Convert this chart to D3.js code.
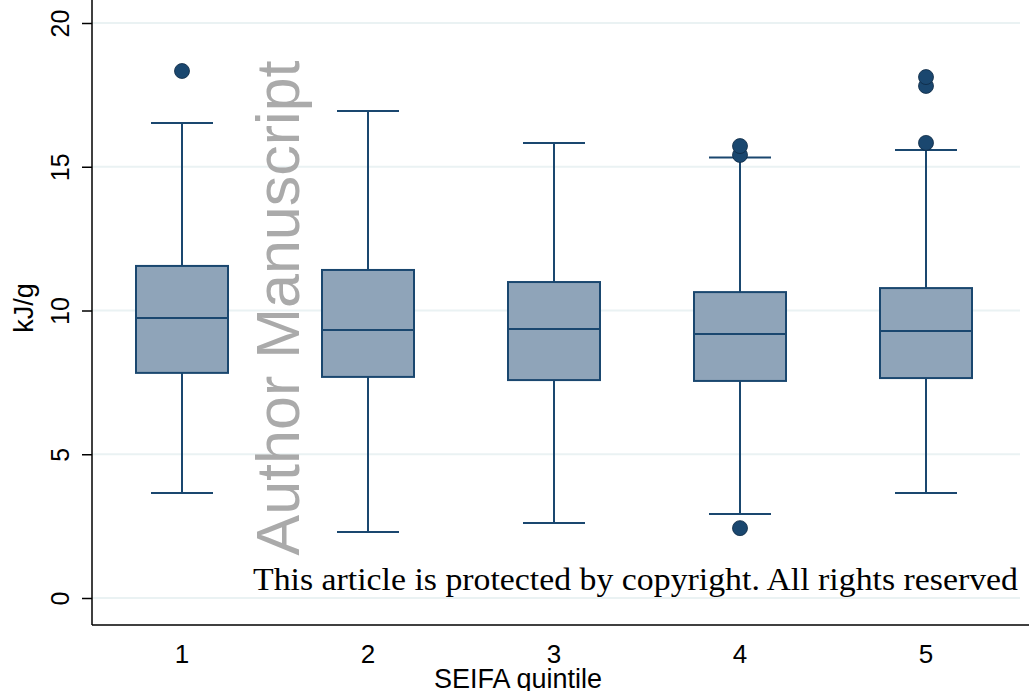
<!DOCTYPE html>
<html><head><meta charset="utf-8">
<script src="https://cdn.jsdelivr.net/npm/d3@7"></script>
<style>body{margin:0;background:#fff}svg{display:block}</style>
</head><body>
<svg id="c" width="1029" height="691"></svg>
<script>
const categories = ["1","2","3","4","5"];
const q1 =      [7.83, 7.69, 7.58, 7.55, 7.65];
const median =  [9.74, 9.32, 9.36, 9.18, 9.29];
const q3 =      [11.55, 11.41, 10.99, 10.64, 10.78];
const whiskLo = [3.65, 2.30, 2.61, 2.92, 3.65];
const whiskHi = [16.52, 16.94, 15.83, 15.32, 15.58];
const outliers = [[18.33], [], [], [2.43, 15.41, 15.72], [15.83, 17.81, 18.12]];
const yTicks = [0, 5, 10, 15, 20];

const svg = d3.select("#c");
const plotL = 92, plotR = 1020, plotT = 0, plotB = 625;
const y = d3.scaleLinear().domain([0, 20]).range([598, 23]);
const x = d3.scaleBand().domain(categories).range([89, 1019]).paddingInner(0).paddingOuter(0);
const cx = c => x(c) + x.bandwidth()/2;
const navy = "#1a476f", fill = "#8fa4b9";
const sans = "Liberation Sans, Arial, sans-serif";

// gridlines
svg.append("g").selectAll("line").data(yTicks).join("line")
  .attr("x1", plotL).attr("x2", plotR).attr("y1", d=>y(d)).attr("y2", d=>y(d))
  .attr("stroke", "#eaf2f3").attr("stroke-width", 2);

// y axis
const ya = svg.append("g").attr("transform", `translate(${plotL},0)`)
  .call(d3.axisLeft(y).tickValues(yTicks).tickSize(10).tickPadding(0));
ya.select(".domain").remove();
ya.selectAll(".tick line").attr("stroke", "#000").attr("stroke-width", 1.5);
ya.selectAll(".tick text").attr("font-family", sans)
  .attr("font-size", 25).attr("fill", "#000").attr("text-anchor", "middle")
  .attr("x", 0).attr("y", 0).attr("dy", 0)
  .attr("transform", "translate(-23,0) rotate(-90)");
svg.append("line").attr("x1", plotL).attr("x2", plotL).attr("y1", plotT).attr("y2", plotB)
  .attr("stroke", "#000").attr("stroke-width", 1.5);

// x axis
const xa = svg.append("g").attr("transform", `translate(0,${plotB})`)
  .call(d3.axisBottom(x).tickSize(0));
xa.select(".domain").remove();
xa.selectAll(".tick text").attr("font-family", sans)
  .attr("font-size", 26).attr("fill", "#000").attr("y", 38).attr("dy", 0);
svg.append("line").attr("x1", plotL).attr("x2", 1029).attr("y1", plotB).attr("y2", plotB)
  .attr("stroke", "#000").attr("stroke-width", 1.5);

// axis titles
svg.append("text").attr("transform", "translate(33,308) rotate(-90)").attr("text-anchor", "middle")
  .attr("font-family", sans).attr("font-size", 27).text("kJ/g");
svg.append("text").attr("x", 518).attr("y", 688).attr("text-anchor", "middle")
  .attr("font-family", sans).attr("font-size", 27).text("SEIFA quintile");

// boxes
const bw = 92, cw = 62;
const g = svg.append("g");
categories.forEach((c, i) => {
  const xc = cx(c);
  const gg = g.append("g");
  const ln = (x1,x2,y1,y2) => gg.append("line").attr("x1",x1).attr("x2",x2).attr("y1",y1).attr("y2",y2)
    .attr("stroke", navy).attr("stroke-width", 2);
  ln(xc, xc, y(q3[i]), y(whiskHi[i]));
  ln(xc, xc, y(q1[i]), y(whiskLo[i]));
  ln(xc-cw/2, xc+cw/2, y(whiskHi[i]), y(whiskHi[i]));
  ln(xc-cw/2, xc+cw/2, y(whiskLo[i]), y(whiskLo[i]));
  gg.append("rect").attr("x", xc-bw/2).attr("width", bw).attr("y", y(q3[i])).attr("height", y(q1[i])-y(q3[i]))
    .attr("fill", fill).attr("stroke", navy).attr("stroke-width", 2);
  ln(xc-bw/2, xc+bw/2, y(median[i]), y(median[i]));
  gg.selectAll("circle").data(outliers[i]).join("circle")
    .attr("cx", xc).attr("cy", d=>y(d)).attr("r", 7.5)
    .attr("fill", navy).attr("stroke", "#0e2a44").attr("stroke-width", 0.8);
});

// watermark
svg.append("text").attr("transform", "translate(299,308) rotate(-90)").attr("text-anchor", "middle")
  .attr("font-family", sans).attr("font-size", 61).attr("fill", "#aaaaaa")
  .text("Author Manuscript");
svg.append("text").attr("x", 253).attr("y", 590)
  .attr("font-family", "Liberation Serif, DejaVu Serif, serif").attr("font-size", 31).attr("fill", "#000")
  .attr("textLength", 765).attr("lengthAdjust", "spacingAndGlyphs")
  .text("This article is protected by copyright. All rights reserved");
</script>
</body></html>
